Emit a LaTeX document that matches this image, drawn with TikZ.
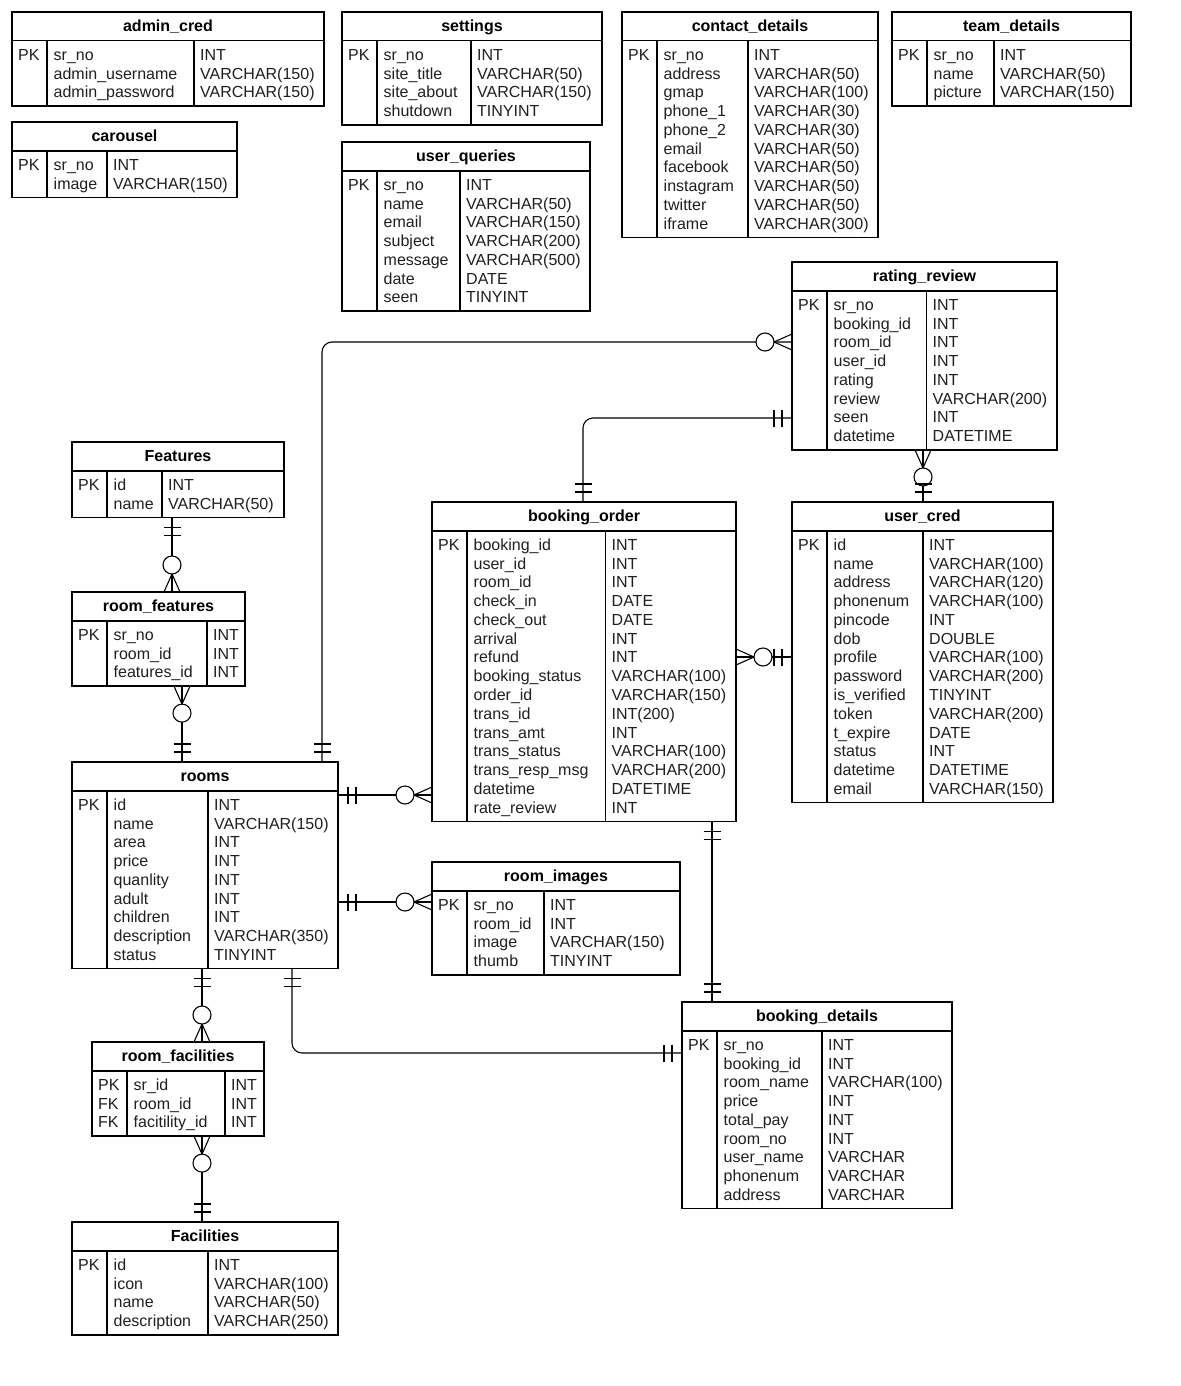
\documentclass[tikz,border=0pt]{standalone}
\usepackage{fontspec}
\setmainfont{Liberation Sans}
\usetikzlibrary{calc}
\tikzset{
  tbox/.style={draw=black, line width=1.4pt, inner sep=0pt, outer sep=0pt, rectangle},
  tline/.style={draw=black, line width=1.4pt},
  conn/.style={draw=black, line width=1.1pt},
  cell/.style={anchor=base west, inner sep=0pt, font=\fontsize{16}{19}\selectfont, text=black!88},
  ttl/.style={anchor=base, inner sep=0pt, font=\fontsize{16}{19}\selectfont\bfseries, text=black},
}
% #1 id, #2 left, #3 right, #4 top, #5 type divider x, #6 title, #7 rows key/name/type
\newcommand\ertab[7]{%
  \node[ttl] (#1-title) at ({(#2+#3)/2},{#4+19.3}) {#6};
  \foreach \k/\f/\t [count=\i from 0] in {#7} {
    \pgfmathsetmacro\yb{#4+48.3+18.77*\i}
    \node[cell] (#1-k\i) at ({#2+6},\yb) {\k};
    \node[cell] (#1-n\i) at ({#2+41.5},\yb) {\f};
    \node[cell] (#1-t\i) at ({#5+6},\yb) {\t};
    \xdef\ern{\i}
  }
  \pgfmathsetmacro\ybot{#4+28.8+18.77*(\ern+1)+9}
  \node[tbox, anchor=north west, minimum width={(#3)-(#2)}, minimum height={\ybot-(#4)}] (#1) at (#2,#4) {};
  \draw[tline] ($(#1.north west)+(0,28.8)$) -- ($(#1.north east)+(0,28.8)$);
  \draw[tline] ($(#1.north west)+(35,28.8)$) -- ($(#1.south west)+(35,0)$);
  \draw[tline] ($(#1.north west)+({#5-(#2)},28.8)$) -- ($(#1.south west)+({#5-(#2)},0)$);
}
% mandatory one: two bars
\newcommand\mone[2]{%
  \draw[conn] ($(#1)+(#2:10)+(#2+90:8.5)$) -- ($(#1)+(#2:10)+(#2-90:8.5)$)
              ($(#1)+(#2:18)+(#2+90:8.5)$) -- ($(#1)+(#2:18)+(#2-90:8.5)$);}
% zero to many: crow's foot and circle
\newcommand\zmany[2]{%
  \draw[conn] ($(#1)+(#2+90:8)$) -- ($(#1)+(#2:18)$) -- ($(#1)+(#2-90:8)$);
  \draw[conn, fill=white] ($(#1)+(#2:27)$) circle[radius=9];}
\begin{document}
\begin{tikzpicture}[x=1pt,y=-1pt]
\useasboundingbox (0,0) rectangle (1180,1386);

\ertab{admin}{12}{324}{12}{194}{admin\_cred}{PK/sr\_no/INT,/admin\_username/VARCHAR(150),/admin\_password/VARCHAR(150)}
\ertab{settings}{342}{602}{12}{471}{settings}{PK/sr\_no/INT,/site\_title/VARCHAR(50),/site\_about/VARCHAR(150),/shutdown/TINYINT}
\ertab{contact}{622}{878}{12}{748}{contact\_details}{PK/sr\_no/INT,/address/VARCHAR(50),/gmap/VARCHAR(100),/phone\_1/VARCHAR(30),/phone\_2/VARCHAR(30),/email/VARCHAR(50),/facebook/VARCHAR(50),/instagram/VARCHAR(50),/twitter/VARCHAR(50),/iframe/VARCHAR(300)}
\ertab{team}{892}{1131}{12}{994}{team\_details}{PK/sr\_no/INT,/name/VARCHAR(50),/picture/VARCHAR(150)}
\ertab{carousel}{12}{237}{122}{107}{carousel}{PK/sr\_no/INT,/image/VARCHAR(150)}
\ertab{uq}{342}{590}{142}{460}{user\_queries}{PK/sr\_no/INT,/name/VARCHAR(50),/email/VARCHAR(150),/subject/VARCHAR(200),/message/VARCHAR(500),/date/DATE,/seen/TINYINT}
\ertab{rr}{792}{1057}{262}{926.5}{rating\_review}{PK/sr\_no/INT,/booking\_id/INT,/room\_id/INT,/user\_id/INT,/rating/INT,/review/VARCHAR(200),/seen/INT,/datetime/DATETIME}
\ertab{feat}{72}{284}{442}{162}{Features}{PK/id/INT,/name/VARCHAR(50)}
\ertab{rf}{72}{245}{592}{207}{room\_features}{PK/sr\_no/INT,/room\_id/INT,/features\_id/INT}
\ertab{rooms}{72}{338}{762}{208}{rooms}{PK/id/INT,/name/VARCHAR(150),/area/INT,/price/INT,/quanlity/INT,/adult/INT,/children/INT,/description/VARCHAR(350),/status/TINYINT}
\ertab{bo}{432}{736}{502}{605.5}{booking\_order}{PK/booking\_id/INT,/user\_id/INT,/room\_id/INT,/check\_in/DATE,/check\_out/DATE,/arrival/INT,/refund/INT,/booking\_status/VARCHAR(100),/order\_id/VARCHAR(150),/trans\_id/INT(200),/trans\_amt/INT,/trans\_status/VARCHAR(100),/trans\_resp\_msg/VARCHAR(200),/datetime/DATETIME,/rate\_review/INT}
\ertab{uc}{792}{1053}{502}{923}{user\_cred}{PK/id/INT,/name/VARCHAR(100),/address/VARCHAR(120),/phonenum/VARCHAR(100),/pincode/INT,/dob/DOUBLE,/profile/VARCHAR(100),/password/VARCHAR(200),/is\_verified/TINYINT,/token/VARCHAR(200),/t\_expire/DATE,/status/INT,/datetime/DATETIME,/email/VARCHAR(150)}
\ertab{ri}{432}{680}{862}{544}{room\_images}{PK/sr\_no/INT,/room\_id/INT,/image/VARCHAR(150),/thumb/TINYINT}
\ertab{bd}{682}{952}{1002}{822}{booking\_details}{PK/sr\_no/INT,/booking\_id/INT,/room\_name/VARCHAR(100),/price/INT,/total\_pay/INT,/room\_no/INT,/user\_name/VARCHAR,/phonenum/VARCHAR,/address/VARCHAR}
\ertab{rfac}{92}{264}{1042}{225}{room\_facilities}{PK/sr\_id/INT,FK/room\_id/INT,FK/facitility\_id/INT}
\ertab{fac}{72}{338}{1222}{208}{Facilities}{PK/id/INT,/icon/VARCHAR(100),/name/VARCHAR(50),/description/VARCHAR(250)}

% connector end points
\coordinate (cA1) at (rr.west |- 0,342);    \coordinate (cA2) at (rooms.north -| 322,0);
\coordinate (cB1) at (rr.west |- 0,418);    \coordinate (cB2) at (bo.north -| 583,0);
\coordinate (cC1) at (rr.south -| 923,0);   \coordinate (cC2) at (uc.north -| 923,0);
\coordinate (cD1) at (bo.east |- 0,657);    \coordinate (cD2) at (uc.west |- 0,657);
\coordinate (cE1) at (rooms.east |- 0,795); \coordinate (cE2) at (bo.west |- 0,795);
\coordinate (cF1) at (rooms.east |- 0,902); \coordinate (cF2) at (ri.west |- 0,902);
\coordinate (cG1) at (rf.south -| 182,0);   \coordinate (cG2) at (rooms.north -| 182,0);
\coordinate (cH1) at (feat.south -| 172,0); \coordinate (cH2) at (rf.north -| 172,0);
\coordinate (cI1) at (rooms.south -| 202,0);\coordinate (cI2) at (rfac.north -| 202,0);
\coordinate (cJ1) at (rfac.south -| 202,0); \coordinate (cJ2) at (fac.north -| 202,0);
\coordinate (cK1) at (rooms.south -| 292,0);\coordinate (cK2) at (bd.west |- 0,1053);
\coordinate (cL1) at (bo.south -| 712,0);   \coordinate (cL2) at (bd.north -| 712,0);

\draw[conn, rounded corners=10] (cA1) -| (cA2);
\draw[conn, rounded corners=10] (cB1) -| (cB2);
\draw[conn] (cC1) -- (cC2);
\draw[conn] (cD1) -- (cD2);
\draw[conn] (cE1) -- (cE2);
\draw[conn] (cF1) -- (cF2);
\draw[conn] (cG1) -- (cG2);
\draw[conn] (cH1) -- (cH2);
\draw[conn] (cI1) -- (cI2);
\draw[conn] (cJ1) -- (cJ2);
\draw[conn, rounded corners=10] (cK1) |- (cK2);
\draw[conn] (cL1) -- (cL2);

\zmany{cA1}{180} \mone{cA2}{270}
\mone{cB1}{180}  \mone{cB2}{270}
\zmany{cC1}{90}  \mone{cC2}{270}
\zmany{cD1}{0}   \mone{cD2}{180}
\mone{cE1}{0}    \zmany{cE2}{180}
\mone{cF1}{0}    \zmany{cF2}{180}
\zmany{cG1}{90}  \mone{cG2}{270}
\mone{cH1}{90}   \zmany{cH2}{270}
\mone{cI1}{90}   \zmany{cI2}{270}
\zmany{cJ1}{90}  \mone{cJ2}{270}
\mone{cK1}{90}   \mone{cK2}{180}
\mone{cL1}{90}   \mone{cL2}{270}
\end{tikzpicture}
\end{document}
